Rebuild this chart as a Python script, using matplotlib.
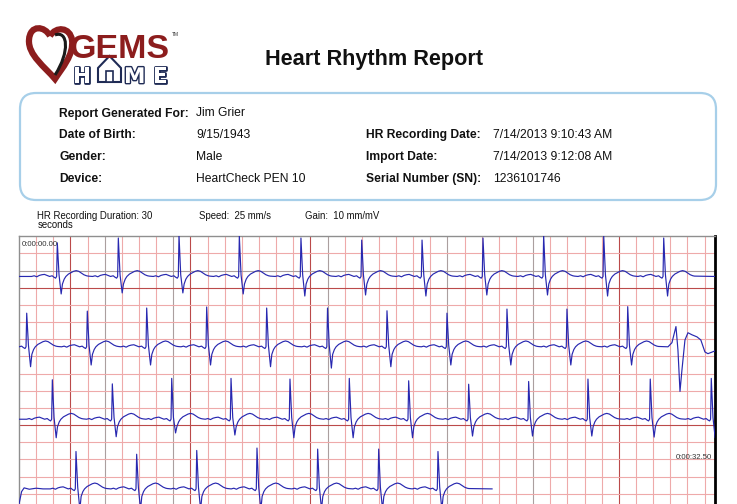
import matplotlib.pyplot as plt
import matplotlib.patheffects as pe
from matplotlib.patches import FancyBboxPatch, PathPatch, Polygon, Rectangle
from matplotlib.path import Path

plt.rcParams['font.family'] = ['Liberation Sans', 'DejaVu Sans']

# report header fields
left_labels = ['Report Generated For:', 'Date of Birth:', 'Gender:', 'Device:']
left_values = ['Jim Grier', '9/15/1943', 'Male', 'HeartCheck PEN 10']
right_labels = ['HR Recording Date:', 'Import Date:', 'Serial Number (SN):']
right_values = ['7/14/2013 9:10:43 AM', '7/14/2013 9:12:08 AM', '1236101746']

# ECG strips: 8.125 s per row, amplitudes in mV
strip_len = 8.125
strip_base = [-1.17, -3.22, -5.33, -7.36]
strip_end = [8.125, 8.125, 8.125, 5.52]
beat_t = [
    [0.447, 1.159, 1.867, 2.571, 3.290, 3.999, 4.703, 5.414, 6.122, 6.823, 7.523],
    [0.090, 0.797, 1.490, 2.190, 2.890, 3.600, 4.294, 4.994, 5.694, 6.394, 7.103],
    [0.389, 1.089, 1.782, 2.474, 3.162, 3.854, 4.547, 5.247, 5.947, 6.639, 7.366, 8.078],
    [0.665, 1.373, 2.074, 2.777, 3.485, 4.197, 4.889],
]
beat_r = [
    [0.98, 1.12, 1.21, 1.18, 1.12, 1.06, 1.06, 1.12, 1.21, 1.18, 1.12],
    [0.98, 1.04, 1.13, 1.16, 1.13, 1.13, 1.05, 0.98, 1.10, 1.10, 1.17],
    [1.15, 1.03, 1.19, 1.19, 1.17, 1.19, 1.12, 1.02, 1.10, 1.17, 1.17, 1.19],
    [1.09, 1.01, 1.12, 1.19, 1.16, 1.16, 1.09],
]
beat_s = [
    [-0.51, -0.48, -0.48, -0.51, -0.57, -0.54, -0.57, -0.54, -0.54, -0.57, -0.57],
    [-0.58, -0.53, -0.53, -0.53, -0.58, -0.62, -0.58, -0.53, -0.53, -0.53, -0.53],
    [-0.54, -0.51, -0.40, -0.46, -0.54, -0.54, -0.54, -0.49, -0.49, -0.49, -0.52, -0.54],
    [-0.60, -0.60, -0.60, -0.60, -0.60, -0.60, -0.60],
]
# normal beat shape around the R peak (R and S slots filled per beat)
tmpl_dt = [-0.30, -0.27, -0.24, -0.21, -0.18, -0.15, -0.12, -0.09, -0.06, -0.04, -0.02,
           -0.008, 0.0, 0.02, 0.045, 0.06, 0.08, 0.10, 0.13, 0.16, 0.19, 0.22, 0.25,
           0.28, 0.31, 0.34, 0.36]
tmpl_mv = [0.00, 0.02, -0.01, 0.03, 0.05, 0.06, 0.03, 0.00, 0.02, -0.02, -0.05,
           0.00, 'R', 0.05, 'S', -0.22, -0.08, 0.00, 0.07, 0.11, 0.15, 0.17, 0.15,
           0.10, 0.05, 0.02, 0.01]
# ectopic beat at the end of row 2
pvc_t = [None, 7.666, None, None]
pvc_dt = [-0.093, -0.047, 0.0, 0.023, 0.047, 0.07, 0.105, 0.14, 0.187, 0.245, 0.29,
          0.338, 0.373, 0.455]
pvc_mv = [0.0, 0.12, 0.59, -0.09, -1.30, -0.67, 0.20, 0.41, 0.35, 0.29, 0.20,
          -0.15, -0.20, -0.12]
lead_t = [[0.0], [0.0], [0.0], [0.0, 0.03, 0.06, 0.12, 0.20, 0.28]]
lead_mv = [[0.0], [0.0], [0.0], [-0.45, -0.08, 0.03, -0.01, 0.02, 0.0]]
tail_mv = [0.0, None, None, 0.0]

fig = plt.figure(figsize=(7.37, 5.04), dpi=100)

# ---- ECG grid ----
px = 1 / 34.32  # mV per pixel
ax = fig.add_axes([19 / 737, (504 - 520) / 504, 696.3 / 737, (520 - 236.3) / 504])
ax.set_xlim(0, strip_len)
ax.set_ylim(-(520 - 236.3) * px, 0)
ax.set_xticks([])
ax.set_yticks([])

LIGHT, DARK, GRAY = '#eeaaaa', '#bb4a4a', '#ab9f9f'
vdark = {3: DARK, 10: DARK, 17: DARK, 35: DARK, 5: GRAY, 9: GRAY, 18: GRAY, 25: GRAY, 30: GRAY}
for k in range(1, 41):
    ax.axvline(0.2 * k, color=vdark.get(k, LIGHT), lw=0.8, zorder=1)
hdark = {3: DARK, 11: DARK, 2: GRAY}
for k in range(1, 17):
    ax.axhline(-0.5 * k, color=hdark.get(k, LIGHT), lw=0.8, zorder=1)

for s in range(4):
    pts = list(zip(lead_t[s], lead_mv[s]))
    for t0, r, sv in zip(beat_t[s], beat_r[s], beat_s[s]):
        for d, v in zip(tmpl_dt, tmpl_mv):
            val = r if v == 'R' else (sv if v == 'S' else v)
            if t0 + d >= 0:
                pts.append((t0 + d, val))
    if pvc_t[s] is not None:
        for d, v in zip(pvc_dt, pvc_mv):
            pts.append((pvc_t[s] + d, v))
    if tail_mv[s] is not None:
        pts.append((strip_end[s], tail_mv[s]))
    pts.sort(key=lambda p: p[0])
    xs = [p[0] for p in pts]
    ys = [strip_base[s] + p[1] for p in pts]
    ax.plot(xs, ys, color='#2828b0', lw=0.85, zorder=3)

for side in ['left', 'top']:
    ax.spines[side].set_color('#8f8f8f')
    ax.spines[side].set_linewidth(1.0)
ax.spines['right'].set_color('black')
ax.spines['right'].set_linewidth(2.0)
ax.spines['bottom'].set_visible(False)

# ---- page overlay in pixel coordinates ----
pg = fig.add_axes([0, 0, 1, 1], zorder=5)
pg.set_xlim(0, 737)
pg.set_ylim(504, 0)
pg.axis('off')

pg.text(21.5, 246, '0:00:00.00', fontsize=5.6, color='#333333')
pg.text(712, 459, '0:00:32.50', fontsize=5.6, color='#333333', ha='right')

pg.text(37.3, 219, 'HR Recording Duration: 30', fontsize=6.9, color='#111111')
pg.text(37.3, 228.5, 'seconds', fontsize=6.9, color='#111111')
pg.text(199, 219, 'Speed:  25 mm/s', fontsize=6.9, color='#111111')
pg.text(305.5, 219, 'Gain:  10 mm/mV', fontsize=6.9, color='#111111')

# info box
box = FancyBboxPatch((20, 93), 696, 107, boxstyle='round,pad=0,rounding_size=16',
                     fc='white', ec='#a7cfe9', lw=1.6)
pg.add_patch(box)
rows_y = [116.5, 138.3, 160.2, 182.0]
for y, lab, val in zip(rows_y, left_labels, left_values):
    pg.text(59.3, y, lab, fontsize=8.7, fontweight='bold', color='#111111')
    pg.text(196, y, val, fontsize=8.7, color='#111111')
for y, lab, val in zip(rows_y[1:], right_labels, right_values):
    pg.text(366, y, lab, fontsize=8.7, fontweight='bold', color='#111111')
    pg.text(493, y, val, fontsize=8.7, color='#111111')

pg.text(374, 65.5, 'Heart Rhythm Report', fontsize=15.6, fontweight='bold',
        ha='center', color='#111111')

# logo
heart = Path([(50, 36), (45, 26), (30, 24), (29, 40), (28, 55), (45, 67), (55, 79),
              (62, 68), (74, 55), (72, 40), (70, 27), (56, 26), (50, 36)],
             [Path.MOVETO] + [Path.CURVE4] * 12)
pg.add_patch(PathPatch(heart, fc='none', ec='#8c1d1d', lw=4.5))
inner = Path([(55, 35), (68, 30), (70, 52), (55, 75)],
             [Path.MOVETO, Path.CURVE4, Path.CURVE4, Path.CURVE4])
pg.add_patch(PathPatch(inner, fc='none', ec='#1a1a1a', lw=2.2))
pg.text(70, 57.5, 'GEMS', fontsize=24.5, fontweight='bold', color='#8c1d1d')
pg.text(172, 36, 'TM', fontsize=3.5, color='#333333')
outline = [pe.withStroke(linewidth=2.0, foreground='#1f2b55')]
for xl, ch in zip([73, 124, 153], ['H', 'M', 'E']):
    pg.text(xl, 83, ch, fontsize=15.5, fontweight='bold', color='white',
            family='DejaVu Sans', path_effects=outline)
pg.add_patch(Polygon([(98, 82), (98, 68), (109.5, 56), (121, 68), (121, 82)],
                     closed=True, fc='white', ec='#1f2b55', lw=1.5))
pg.add_patch(Rectangle((106, 71), 7, 11, fc='white', ec='#1f2b55', lw=1.2))

fig.savefig('out.png', dpi=100)
